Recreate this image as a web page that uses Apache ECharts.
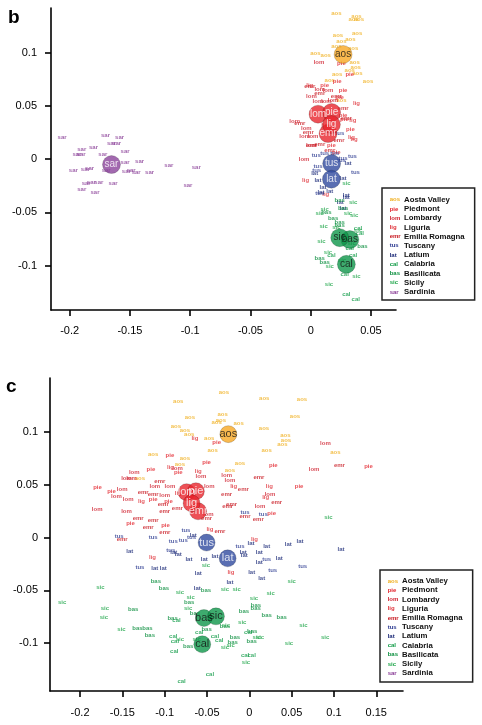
<!DOCTYPE html>
<html>
<head>
<meta charset="utf-8">
<script src="https://cdn.jsdelivr.net/npm/echarts@6/dist/echarts.min.js"></script>
<style>
html, body { margin: 0; padding: 0; background: #fff; }
#main { width: 482px; height: 725px; }
</style>
</head>
<body>
<div id="main"></div>
<script>
// region codes and legend names
const regions = ['aos', 'pie', 'lom', 'lig', 'emr', 'tus', 'lat', 'cal', 'bas', 'sic', 'sar'];
const regionNames = ['Aosta Valley', 'Piedmont', 'Lombardy', 'Liguria', 'Emilia Romagna', 'Tuscany', 'Latium', 'Calabria', 'Basilicata', 'Sicily', 'Sardinia'];
const textColors = ['#f0b020', '#e2222b', '#cf1f2d', '#e0333b', '#c8171f', '#2b3990', '#1c2a78', '#129c48', '#0b8f3e', '#1fa64a', '#8a3e97'];
const dotColors = ['#f7a823', '#e8242c', '#e8242c', '#e8242c', '#e8242c', '#2f4a9f', '#2f4a9f', '#0e964a', '#0e964a', '#0e964a', '#8b449b'];
const dotText = ['#111', '#fff', '#fff', '#fff', '#fff', '#fff', '#fff', '#111', '#111', '#111', '#fff'];

// axis ticks
const xTicksB = [-0.2, -0.15, -0.1, -0.05, 0, 0.05];
const yTicksB = [-0.1, -0.05, 0, 0.05, 0.1];
const xTicksC = [-0.2, -0.15, -0.1, -0.05, 0, 0.05, 0.1, 0.15];
const yTicksC = [-0.1, -0.05, 0, 0.05, 0.1];

// panel b: individuals
const aosB = [[0.0213,0.137],[0.038,0.1345],[0.0357,0.1313],[0.040,0.1313],[0.0227,0.1166],[0.0385,0.1179],[0.033,0.1129],[0.0255,0.111],[0.0213,0.1056],[0.0352,0.1038],[0.0039,0.0994],[0.0125,0.0972],[0.0365,0.0906],[0.0374,0.0859],[0.0219,0.080],[0.0324,0.0837],[0.0388,0.0803],[0.0476,0.0727],[0.0158,0.0737],[0.0255,0.0555]];
const pieB = [[0.0255,0.090],[0.0324,0.080],[0.022,0.0727],[0.0116,0.0696],[0.0269,0.0649],[0.024,0.058],[0.033,0.0279],[0.0269,0.0414],[0.0172,0.0129],[0.0213,0.0069],[0.028,0.037]];
const lomB = [[0.0069,0.0906],[0.0006,0.0586],[0.006,0.054],[0.013,0.054],[-0.0133,0.0351],[-0.0036,0.0288],[-0.005,0.0216],[0.002,0.0216],[0.0075,0.0655],[0.0144,0.0649],[-0.0055,0.0],[0.0006,0.0132],[0.0186,0.0555]];
const ligB = [[0.038,0.0524],[-0.0042,-0.0197],[0.0125,-0.0329],[0.0338,0.021],[0.0116,0.032],[0.035,0.0367],[-0.0008,0.0696],[0.036,0.019]];
const emrB = [[-0.0008,0.0687],[0.0075,0.0618],[0.0213,0.0586],[0.0235,0.0179],[0.0006,0.0132],[0.0075,0.0135],[0.0158,0.0085],[0.0269,0.0476],[-0.009,0.0335],[0.0296,0.0382],[-0.002,0.025]];
const tusB = [[0.0047,0.0038],[0.0116,0.0053],[0.0199,0.0053],[0.0346,0.0025],[0.0255,-0.0009],[0.0371,-0.0119],[0.0061,-0.0063],[0.0269,0.0006],[0.0241,0.0241],[0.0075,-0.0323],[0.005,-0.01]];
const latB = [[0.031,-0.0041],[0.0033,-0.0135],[0.006,-0.0197],[0.0269,-0.0176],[0.0102,-0.026],[0.0158,-0.0301],[0.0296,-0.0339],[0.0246,-0.0401],[0.0296,-0.0354],[0.0269,-0.0464],[0.0085,-0.031]];
const calB = [[0.0296,-0.127],[0.0374,-0.132],[0.0282,-0.1082],[0.0352,-0.0903],[0.0324,-0.084],[0.0172,-0.0903],[0.0393,-0.0652],[0.0407,-0.0699]];
const basB = [[0.0241,-0.0386],[0.0269,-0.0464],[0.013,-0.0495],[0.0241,-0.0589],[0.0429,-0.0818],[0.0075,-0.0934],[0.0116,-0.0966],[0.0186,-0.0558],[0.024,-0.062]];
const sicB = [[0.0296,-0.0223],[0.0352,-0.0401],[0.0116,-0.047],[0.036,-0.0527],[0.0075,-0.0511],[0.0108,-0.0627],[0.0393,-0.0668],[0.0089,-0.0768],[0.0144,-0.0871],[0.0158,-0.1006],[0.0379,-0.110],[0.0152,-0.1179],[0.0213,-0.0636],[0.031,-0.0511],[0.034,-0.079],[0.026,-0.095]];
const sarB = [[-0.2063,0.021],[-0.1703,0.022],[-0.1586,0.021],[-0.1653,0.0147],[-0.161,0.0147],[-0.190,0.0094],[-0.1802,0.0113],[-0.194,0.0044],[-0.1905,0.0044],[-0.1725,0.0044],[-0.154,0.0078],[-0.154,-0.003],[-0.142,-0.002],[-0.1177,-0.0056],[-0.095,-0.0072],[-0.197,-0.0103],[-0.187,-0.0097],[-0.1835,-0.0088],[-0.1697,-0.0103],[-0.153,-0.011],[-0.149,-0.0103],[-0.1448,-0.012],[-0.1337,-0.0122],[-0.1863,-0.0223],[-0.182,-0.0213],[-0.1758,-0.0213],[-0.164,-0.0226],[-0.190,-0.0282],[-0.179,-0.0307],[-0.1019,-0.025]];

// panel b: population centres, in drawing order
const centB = [['aos',0.0269,0.0984],['emr',0.0144,0.0241],['lom',0.0061,0.0423],['pie',0.0174,0.0439],['lig',0.0172,0.0326],['tus',0.0174,-0.0041],['lat',0.0172,-0.0188],['bas',0.0325,-0.0755],['sic',0.0241,-0.0737],['cal',0.0296,-0.0987],['sar',-0.1653,-0.005]];

// panel c: individuals
const aosC = [[-0.030,0.1375],[-0.084,0.1286],[0.0177,0.1317],[0.0623,0.1311],[-0.0702,0.1137],[-0.0315,0.1165],[-0.0335,0.1111],[-0.0386,0.1089],[-0.0126,0.1076],[0.054,0.1149],[-0.0868,0.1051],[-0.0761,0.1013],[-0.071,0.0975],[-0.0473,0.0937],[0.0174,0.1032],[0.0426,0.0968],[0.0434,0.0921],[0.039,0.0879],[-0.0434,0.0822],[0.0205,0.0829],[0.1017,0.081],[-0.1136,0.079],[-0.0761,0.0752],[-0.082,0.0695],[-0.011,0.0705],[-0.0229,0.0632],[-0.1293,0.0556]];
const pieC = [[-0.0938,0.0777],[-0.0386,0.0905],[-0.0505,0.0711],[-0.1163,0.0641],[-0.084,0.0619],[0.0284,0.0683],[0.1408,0.0676],[-0.1794,0.0479],[-0.1628,0.0435],[-0.1404,0.0137],[-0.099,0.0111],[-0.1136,0.0365],[0.0588,0.0483],[0.0264,0.0229],[-0.0955,0.034]];
const lomC = [[-0.136,0.0619],[-0.1451,0.0562],[-0.1392,0.0562],[-0.1502,0.046],[-0.157,0.0387],[-0.1431,0.0359],[-0.1798,0.0263],[-0.1116,0.0483],[-0.0938,0.0486],[-0.0848,0.0651],[-0.0572,0.0575],[-0.0268,0.059],[-0.0229,0.0537],[-0.0473,0.0486],[0.0765,0.0641],[0.0899,0.0892],[0.0244,0.0413],[0.0126,0.0295],[-0.1451,0.0244],[-0.0485,0.0222],[-0.1,0.04]];
const ligC = [[-0.0643,0.0937],[-0.0603,0.0629],[-0.0931,0.0667],[-0.1274,0.034],[0.0237,0.0486],[0.0193,0.0381],[-0.084,0.0422],[-0.0465,0.0073],[0.006,-0.0016],[-0.1144,-0.0187],[-0.0217,-0.0333],[-0.0185,0.0486]];
const emrC = [[-0.1057,0.053],[-0.1254,0.0429],[-0.1136,0.0413],[0.0114,0.0568],[-0.0268,0.0406],[-0.0071,0.0454],[-0.0209,0.0311],[-0.0256,0.0292],[0.0323,0.0333],[0.1065,0.0683],[-0.1313,0.0184],[-0.1136,0.0165],[-0.1195,0.0095],[-0.0998,0.0048],[-0.0347,0.0057],[-0.0051,0.0197],[0.0106,0.0168],[-0.1502,-0.0022],[-0.0505,0.0181],[-0.1017,0.0317],[-0.1,0.025],[-0.085,0.028]];
const tusC = [[-0.1538,0.001],[-0.1136,-0.0003],[-0.0899,-0.0032],[-0.0749,0.007],[-0.0682,0.0],[-0.0051,0.0238],[0.0166,0.0222],[-0.011,-0.0079],[0.0205,-0.0206],[0.0276,-0.0314],[0.0631,-0.0276],[-0.1293,-0.0279],[-0.0927,-0.0117],[-0.078,-0.003]];
const latC = [[-0.1412,-0.0127],[-0.1116,-0.0295],[-0.1017,-0.0295],[-0.084,-0.0162],[-0.0714,-0.0206],[-0.0532,-0.0206],[-0.0603,-0.0337],[-0.0406,-0.0181],[-0.0071,-0.0143],[-0.0059,-0.0171],[0.002,-0.0057],[0.0118,-0.0143],[0.0118,-0.0232],[0.0205,-0.0079],[0.0355,-0.02],[0.0461,-0.0067],[0.0599,-0.0038],[0.1084,-0.0111],[0.0028,-0.0333],[0.0146,-0.0384],[-0.0229,-0.0422],[-0.0615,-0.048],[-0.0662,0.0016],[-0.0893,-0.014]];
const calC = [[-0.086,-0.0787],[-0.0899,-0.0937],[-0.0879,-0.0984],[-0.0887,-0.1079],[-0.0406,-0.0933],[-0.0355,-0.0975],[-0.0591,-0.0898],[0.0028,-0.1114],[-0.0465,-0.1292],[-0.08,-0.1356],[-0.0012,-0.0898],[-0.005,-0.1114]];
const basC = [[-0.1104,-0.041],[-0.1009,-0.0479],[-0.0513,-0.0498],[-0.071,-0.061],[-0.1372,-0.0676],[-0.1321,-0.086],[-0.1203,-0.086],[-0.1175,-0.0927],[-0.0907,-0.0768],[-0.0643,-0.0714],[0.0079,-0.0641],[-0.0063,-0.0698],[0.0075,-0.0673],[0.0205,-0.0737],[0.0382,-0.0756],[-0.017,-0.0943],[0.0028,-0.0978],[-0.0288,-0.0841],[-0.0197,-0.0994],[-0.0505,-0.0873],[-0.0722,-0.1032],[0.0035,-0.0883]];
const sicC = [[-0.2212,-0.0613],[-0.1759,-0.047],[-0.1707,-0.0673],[-0.1719,-0.0752],[-0.151,-0.0867],[-0.082,-0.0514],[-0.0694,-0.0565],[-0.0722,-0.067],[-0.0288,-0.0492],[-0.015,-0.0492],[0.0252,-0.0524],[0.0055,-0.0575],[-0.0083,-0.08],[-0.0276,-0.0835],[0.0639,-0.0832],[0.0895,-0.0943],[0.0469,-0.1003],[0.0126,-0.0943],[-0.0288,-0.1041],[-0.0221,-0.1016],[-0.0039,-0.1184],[0.0501,-0.0419],[0.0935,0.0187],[-0.082,-0.0968],[-0.0623,-0.0962],[-0.0513,-0.026],[0.0088,-0.0943]];
const sarC = [];

// panel c: population centres, in drawing order
const centC = [['aos',-0.0248,0.0978],['lom',-0.0741,0.0429],['pie',-0.0631,0.0438],['emr',-0.0605,0.0248],['lig',-0.0682,0.0324],['tus',-0.0505,-0.0048],['lat',-0.0256,-0.0197],['bas',-0.0536,-0.0762],['sic',-0.0394,-0.0746],['cal',-0.0556,-0.101]];

const pointsB = [aosB, pieB, lomB, ligB, emrB, tusB, latB, calB, basB, sicB, sarB];
const pointsC = [aosC, pieC, lomC, ligC, emrC, tusC, latC, calC, basC, sicC, sarC];

const FONT = 'Liberation Sans, Arial, sans-serif';

function labelSeries(i, data, gi) {
    return {
        name: regionNames[i],
        type: 'scatter',
        xAxisIndex: gi,
        yAxisIndex: gi,
        data: data,
        symbolSize: 2,
        itemStyle: { color: 'rgba(0,0,0,0)' },
        label: {
            show: true,
            position: 'inside',
            formatter: regions[i],
            color: textColors[i],
            fontSize: 6,
            fontWeight: 'bold',
            fontFamily: FONT
        },
        silent: true,
        z: 2
    };
}

function centreSeries(cents, gi, size, fs) {
    return {
        name: 'centres' + gi,
        type: 'scatter',
        xAxisIndex: gi,
        yAxisIndex: gi,
        symbolSize: size,
        data: cents.map(function (c) {
            const k = regions.indexOf(c[0]);
            return {
                name: c[0],
                value: [c[1], c[2]],
                itemStyle: { color: dotColors[k] },
                label: { color: dotText[k] }
            };
        }),
        itemStyle: { borderColor: 'rgba(0,0,0,0.35)', borderWidth: 0.6 },
        label: { show: true, position: 'inside', formatter: '{b}', fontSize: fs, fontFamily: FONT },
        silent: true,
        z: 3
    };
}

function axisX(gi, min, max, ticks, margin) {
    return {
        gridIndex: gi, type: 'value', min: min, max: max,
        axisLine: { show: true, onZero: false, lineStyle: { color: '#000', width: 1.6 } },
        axisTick: { show: true, length: 6, customValues: ticks, lineStyle: { color: '#000', width: 1.6 } },
        axisLabel: { customValues: ticks, margin: margin, color: '#000', fontSize: 11, fontFamily: FONT, formatter: function (v) { return String(v); } },
        splitLine: { show: false }
    };
}
function axisY(gi, min, max, ticks, margin) {
    return {
        gridIndex: gi, type: 'value', min: min, max: max,
        axisLine: { show: true, onZero: false, lineStyle: { color: '#000', width: 1.6 } },
        axisTick: { show: true, length: 6, customValues: ticks, lineStyle: { color: '#000', width: 1.6 } },
        axisLabel: { customValues: ticks, margin: margin, color: '#000', fontSize: 11, fontFamily: FONT, formatter: function (v) { return String(v); } },
        splitLine: { show: false }
    };
}

function mkLegend(left, top, pad) {
    const rich = { nm: { color: '#111', fontSize: 7.8, fontWeight: 'bold', fontFamily: FONT, lineHeight: 9.23 } };
    regions.forEach(function (r, i) {
        rich[r] = { color: textColors[i], fontSize: 6, fontWeight: 'bold', fontFamily: FONT, width: 14.3, lineHeight: 9.23 };
    });
    return {
        left: left, top: top, orient: 'vertical',
        data: regionNames.map(function (n) { return { name: n, icon: 'none' }; }),
        itemWidth: 0, itemHeight: 9.23, itemGap: 0.6,
        padding: pad,
        borderColor: '#222', borderWidth: 1.5,
        selectedMode: false,
        formatter: function (name) {
            const r = regions[regionNames.indexOf(name)];
            return '{' + r + '|' + r + '}{nm|' + name + '}';
        },
        textStyle: { rich: rich }
    };
}

const series = [];
pointsB.forEach(function (d, i) { series.push(labelSeries(i, d, 0)); });
pointsC.forEach(function (d, i) { series.push(labelSeries(i, d, 1)); });
series.push(centreSeries(centB, 0, 18, 10));
series.push(centreSeries(centC, 1, 17, 11));

const option = {
    animation: false,
    title: [
        { text: 'b', left: 3, top: 3, textStyle: { fontSize: 19, fontWeight: 'bold', color: '#000', fontFamily: FONT } },
        { text: 'c', left: 1, top: 372, textStyle: { fontSize: 19, fontWeight: 'bold', color: '#000', fontFamily: FONT } }
    ],
    grid: [
        { left: 51, top: 8, width: 345, height: 302 },
        { left: 50, top: 378, width: 353, height: 313 }
    ],
    xAxis: [
        axisX(0, -0.2155, 0.0708, xTicksB, 15),
        axisX(1, -0.2355, 0.1816, xTicksC, 16)
    ],
    yAxis: [
        axisY(0, -0.1416, 0.142, yTicksB, 14),
        axisY(1, -0.1452, 0.1509, yTicksC, 12)
    ],
    legend: [
        mkLegend(382, 188, [7.1, 10, 4.1, 2.7]),
        mkLegend(380, 570, [6.4, 10, 4.8, 2.7])
    ],
    series: series
};

const chart = echarts.init(document.getElementById('main'));
chart.setOption(option);
</script>
</body>
</html>
